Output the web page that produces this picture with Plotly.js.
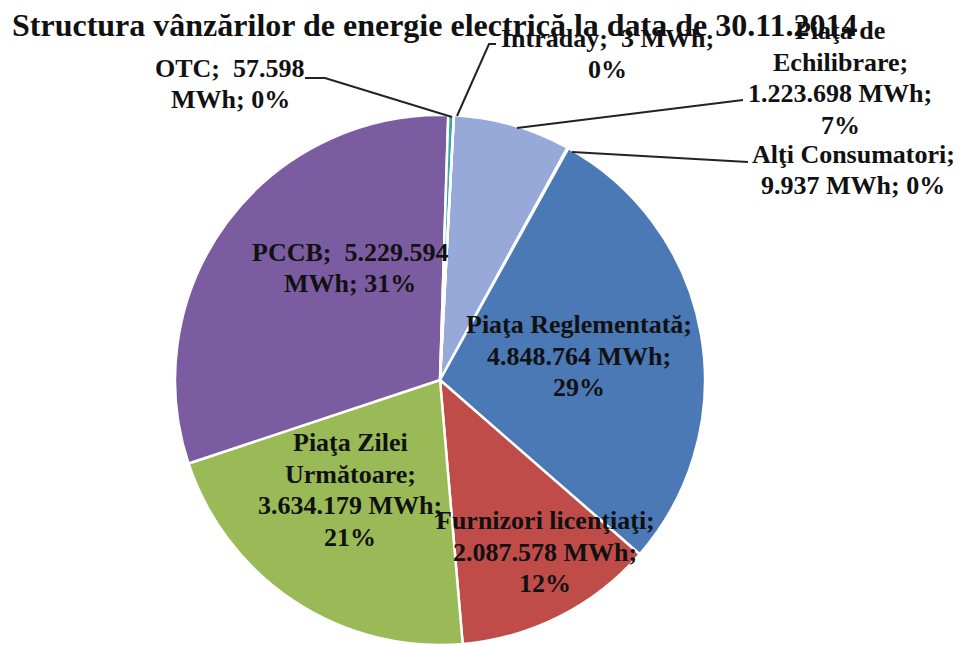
<!DOCTYPE html>
<html>
<head>
<meta charset="utf-8">
<script src="https://cdn.plot.ly/plotly-3.0.1.min.js"></script>
<style>html,body{margin:0;padding:0;background:#fff;}#chart{width:961px;height:645px;}</style>
</head>
<body>
<div id="chart"></div>
<script>
// ---- data ----
const sliceNames = ["Piaţa de\nEchilibrare", "Alţi Consumatori", "Piaţa Reglementată", "Furnizori licenţiaţi", "Piaţa Zilei\nUrmătoare", "PCCB", "OTC", "Intraday"];
const sliceValues = [1223698, 9937, 4848764, 2087578, 3634179, 5229594, 57598, 3];
const slicePercents = [7, 0, 29, 12, 21, 31, 0, 0];
const sliceColors = ["#97a9d9", "#f79646", "#4a79b6", "#bf4c49", "#99ba56", "#7c5ca1", "#3aa8a2", "#4bacc6"];
const chartTitle = "Structura vânzărilor de energie electrică la data de 30.11.2014";

// ---- layout of labels (pixel positions, not data) ----
const W = 961, H = 645;
const labelSpec = [
  {tpl: "{n};\n{v} MWh;\n{p}%", x: 840, y: 78},
  {tpl: "{n};\n{v} MWh; {p}%", x: 853, y: 170},
  {tpl: "{n};\n{v} MWh;\n{p}%", x: 579, y: 356},
  {tpl: "{n};\n{v} MWh;\n{p}%", x: 545, y: 552},
  {tpl: "{n};\n{v} MWh;\n{p}%", x: 350, y: 490},
  {tpl: "{n};  {v}\nMWh; {p}%", x: 350, y: 268},
  {tpl: "{n};  {v}\nMWh; {p}%", x: 230, y: 84},
  {tpl: "{n};  {v} MWh;\n{p}%", x: 607, y: 54}
];
const leaderPaths = [
  [[743,100],[517,128]],
  [[748,162],[572,152]],
  [[305,78],[325,78],[452,117]],
  [[496,44],[489,44],[457,116]]
];
const LINE = 31.5;

function fmt(v){ return String(v).replace(/\B(?=(\d{3})+(?!\d))/g, "."); }
const px = x => x / W, py = y => 1 - y / H;

const annotations = [];
sliceNames.forEach((name, i) => {
  const s = labelSpec[i];
  const txt = s.tpl.replace("{n}", name).replace("{v}", fmt(sliceValues[i])).replace("{p}", slicePercents[i]);
  const lines = txt.split("\n");
  lines.forEach((ln, k) => {
    annotations.push({
      text: "<b>" + ln + "</b>", showarrow: false,
      xref: "paper", yref: "paper",
      x: px(s.x), y: py(s.y + (k - (lines.length - 1) / 2) * LINE),
      xanchor: "center", yanchor: "middle",
      font: {family: "Liberation Serif", size: 26, color: "#111"}
    });
  });
});

const shapes = leaderPaths.map(p => ({
  type: "path", xref: "paper", yref: "paper",
  path: p.map((pt, k) => (k ? "L" : "M") + px(pt[0]) + "," + py(pt[1])).join(" "),
  line: {color: "#222", width: 2}
}));

const cx = 440, cy = 380, r = 265;
const trace = {
  type: "pie",
  labels: sliceNames.map(n => n.replace("\n", " ")),
  values: sliceValues,
  sort: false,
  direction: "clockwise",
  rotation: 3,
  textinfo: "none",
  hoverinfo: "none",
  marker: {colors: sliceColors, line: {color: "#ffffff", width: 2.5}},
  domain: {x: [px(cx - r), px(cx + r)], y: [py(cy + r), py(cy - r)]},
  showlegend: false
};

const layout = {
  width: W, height: H,
  margin: {l: 0, r: 0, t: 0, b: 0},
  paper_bgcolor: "#fff",
  title: {
    text: "<b>" + chartTitle + "</b>",
    x: 12 / W, xanchor: "left", xref: "paper",
    y: 1 - 25 / H, yanchor: "middle", yref: "container",
    font: {family: "Liberation Serif", size: 32, color: "#111"}
  },
  annotations: annotations,
  shapes: shapes,
  showlegend: false
};

Plotly.newPlot("chart", [trace], layout, {displayModeBar: false, staticPlot: true});
</script>
</body>
</html>
